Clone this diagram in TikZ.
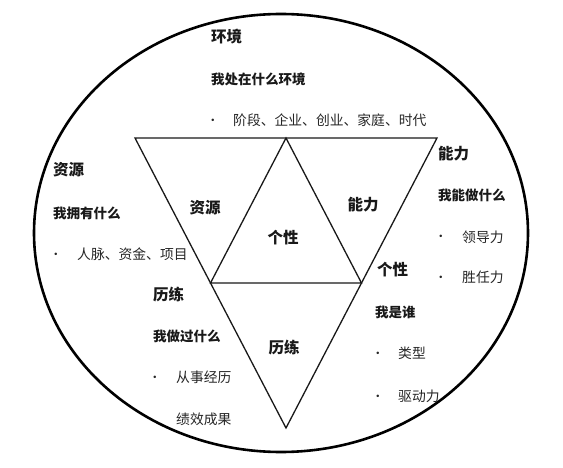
\documentclass[tikz,border=0pt]{standalone}
\usepackage{fontspec}
\usetikzlibrary{calc}
\setmainfont{Noto Sans CJK SC}
\newfontfamily\bulletfont{DejaVu Sans}
\begin{document}
\begin{tikzpicture}[x=1pt,y=-1pt,
  head/.style={anchor=west,inner sep=0pt,font=\fontsize{15.5}{16}\selectfont\bfseries,text=black!90},
  sub/.style={anchor=west,inner sep=0pt,font=\fontsize{13.5}{14}\selectfont\bfseries,text=black!90},
  item/.style={anchor=west,inner sep=0pt,font=\fontsize{13.8}{14}\selectfont,text=black!85},
  dot/.style={inner sep=0pt,font=\bulletfont\fontsize{8.5}{9}\selectfont,text=black!85},
  inner/.style={inner sep=0pt,font=\fontsize{15.5}{16}\selectfont\bfseries,text=black!90},
  tri/.style={draw=black!90,line width=1.3pt,line join=miter},
  ring/.style={draw=black,line width=2.6pt}]
\useasboundingbox (0,0) rectangle (563,468);
\fill[white] (0,0) rectangle (563,468);
% outer ellipse
\draw[ring] (281,233) ellipse [x radius=247pt, y radius=219pt];
% triangle corners
\coordinate (A) at (135,138);
\coordinate (B) at (437,138);
\coordinate (C) at (286,428);
\coordinate (mAB) at ($(A)!0.5!(B)$);
\coordinate (mAC) at ($(A)!0.5!(C)$);
\coordinate (mBC) at ($(B)!0.5!(C)$);
\draw[tri] (A) -- (B) -- (C) -- cycle;
\draw[tri] (mAB) -- (mAC) -- (mBC) -- cycle;
% inner labels
\node[inner] (iZY) at (205,208) {资源};
\node[inner] (iNL) at (363,205) {能力};
\node[inner] (iGX) at (283,238) {个性};
\node[inner] (iLL) at (284,348) {历练};
% 环境
\node[head] (hHJ) at (211,37) {环境};
\node[sub] (sHJ) at (211,79) {我处在什么环境};
\node[dot] (dHJ) at (213,121) {•};
\node[item] (tHJ) at (233,120) {阶段、企业、创业、家庭、时代};
% 资源
\node[head] (hZY) at (53,170) {资源};
\node[sub] (sZY) at (53,213) {我拥有什么};
\node[dot] (dZY) at (56,255) {•};
\node[item] (tZY) at (77,254) {人脉、资金、项目};
% 能力
\node[head] (hNL) at (438,154) {能力};
\node[sub] (sNL) at (438,195) {我能做什么};
\node[dot] (dNL1) at (441,237) {•};
\node[item] (tNL1) at (462,237) {领导力};
\node[dot] (dNL2) at (441,278) {•};
\node[item] (tNL2) at (462,277) {胜任力};
% 个性
\node[head] (hGX) at (377,270) {个性};
\node[sub] (sGX) at (375,312) {我是谁};
\node[dot] (dGX1) at (378,354) {•};
\node[item] (tGX1) at (398,353) {类型};
\node[dot] (dGX2) at (378,397) {•};
\node[item] (tGX2) at (398,396) {驱动力};
% 历练
\node[head] (hLL) at (153,295) {历练};
\node[sub] (sLL) at (153,336) {我做过什么};
\node[dot] (dLL) at (155,378) {•};
\node[item] (tLL1) at (176,377) {从事经历};
\node[item] (tLL2) at (176,419) {绩效成果};
\end{tikzpicture}
\end{document}
